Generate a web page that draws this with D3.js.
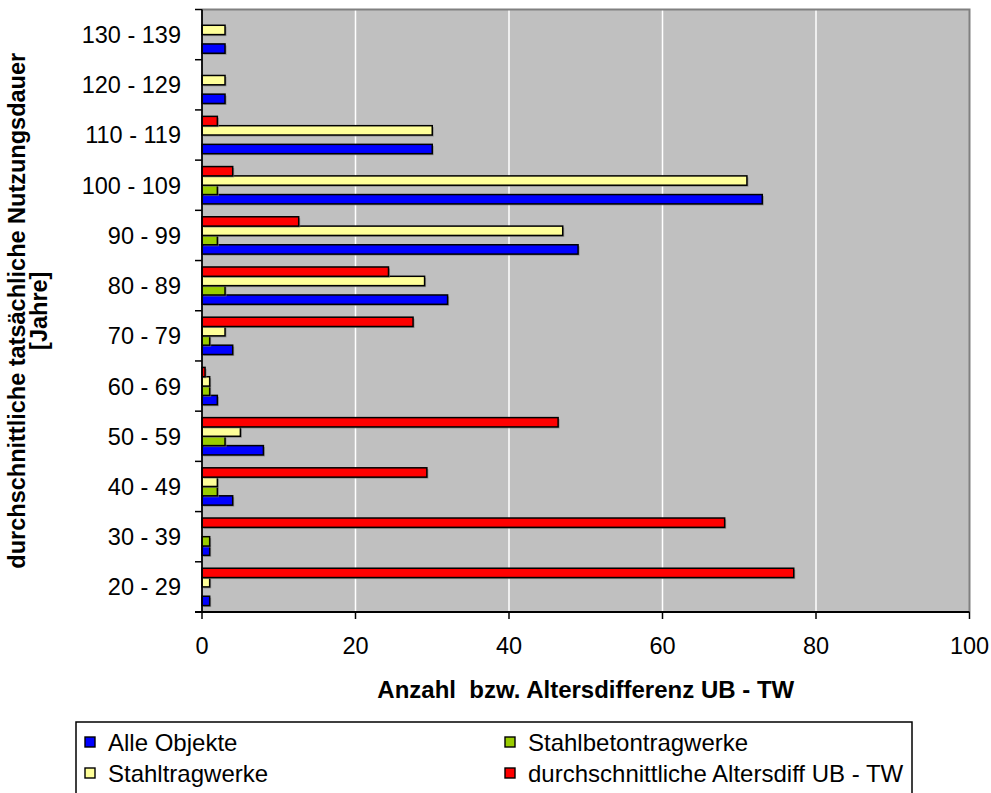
<!DOCTYPE html>
<html>
<head>
<meta charset="utf-8">
<script src="https://cdn.jsdelivr.net/npm/d3@7"></script>
<style>
  html, body { margin: 0; padding: 0; background: #fff; }
  svg { display: block; }
  text { font-family: "Liberation Sans", Arial, sans-serif; fill: #000; }
</style>
</head>
<body>
<svg id="chart" width="991" height="793"></svg>
<script>
// ---- data (bottom to top, as in the chart) ----
const categories = ["20 - 29", "30 - 39", "40 - 49", "50 - 59", "60 - 69", "70 - 79",
                    "80 - 89", "90 - 99", "100 - 109", "110 - 119", "120 - 129", "130 - 139"];
const alleObjekte         = [1, 1, 4, 8, 2, 4, 32, 49, 73, 30, 3, 3];
const stahlbetontragwerke = [0, 1, 2, 3, 1, 1, 3, 2, 2, 0, 0, 0];
const stahltragwerke      = [1, 0, 2, 5, 1, 3, 29, 47, 71, 30, 3, 3];
const altersdiff          = [77.1, 68.1, 29.3, 46.4, 0.4, 27.5, 24.3, 12.6, 4.0, 2.0, 0, 0];
const seriesNames = ["Alle Objekte", "Stahlbetontragwerke", "Stahltragwerke", "durchschnittliche Altersdiff UB - TW"];
const seriesColors = ["#0000FF", "#99CC00", "#FFFF99", "#FF0000"];
const xTicks = [0, 20, 40, 60, 80, 100];
const xTitle = "Anzahl  bzw. Altersdifferenz UB - TW";
const yTitle1 = "durchschnittliche tatsächliche Nutzungsdauer";
const yTitle2 = "[Jahre]";

const seriesValues = [alleObjekte, stahlbetontragwerke, stahltragwerke, altersdiff];

const svg = d3.select("#chart");
const L = 202, R = 969.5, T = 9.5, B = 612;

const x = d3.scaleLinear().domain([0, 100]).range([L, R]);
const y = d3.scaleBand().domain(categories.slice().reverse()).range([T, B]).padding(0);
// within a group: series 0 at bottom, last series on top
const inner = d3.scaleBand().domain([3, 2, 1, 0]).range([0, y.bandwidth()])
  .paddingInner(0).paddingOuter(0.69);

// plot background
svg.append("rect").attr("x", L).attr("y", T).attr("width", R - L).attr("height", B - T)
  .attr("fill", "#C0C0C0");

// gridlines
svg.append("g").selectAll("line").data(xTicks.filter(d => d > 0 && d < 100)).join("line")
  .attr("x1", d => x(d)).attr("x2", d => x(d)).attr("y1", T).attr("y2", B)
  .attr("stroke", "#fff").attr("stroke-width", 1.5);

// plot border (top/right grey)
svg.append("path").attr("d", `M${L},${T}H${R}V${B}`).attr("fill", "none")
  .attr("stroke", "#808080").attr("stroke-width", 2);

// bars
const groups = svg.append("g").selectAll("g").data(seriesValues).join("g");
groups.each(function(vals, si) {
  const g = d3.select(this);
  const rows = categories.map((c, i) => ({ c, v: vals[i] })).filter(d => d.v > 0);
  g.selectAll("rect.sh").data(rows).join("rect").attr("class", "sh")
    .attr("x", L + 1.5).attr("y", d => y(d.c) + inner(si) + 1.5)
    .attr("width", d => x(d.v) - L).attr("height", inner.bandwidth())
    .attr("fill", "#7a7a7a").attr("opacity", 0.7);
  g.selectAll("rect.bar").data(rows).join("rect").attr("class", "bar")
    .attr("x", L).attr("y", d => y(d.c) + inner(si))
    .attr("width", d => x(d.v) - L).attr("height", inner.bandwidth())
    .attr("fill", seriesColors[si]).attr("stroke", "#000").attr("stroke-width", 1.5);
});

// y axis
const yEdges = categories.map(c => y(c)).concat([B]);
svg.append("g").selectAll("line").data(yEdges).join("line")
  .attr("x1", L - 7).attr("x2", L).attr("y1", d => d).attr("y2", d => d)
  .attr("stroke", "#000").attr("stroke-width", 1.5);
svg.append("line").attr("x1", L).attr("x2", L).attr("y1", T).attr("y2", B + 0.5)
  .attr("stroke", "#000").attr("stroke-width", 1.8);
svg.append("g").selectAll("text").data(categories).join("text")
  .attr("x", 181).attr("y", d => y(d) + y.bandwidth() / 2)
  .attr("dy", "0.36em").attr("text-anchor", "end")
  .attr("font-size", 23.5).text(d => d);

// x axis
svg.append("line").attr("x1", L - 7).attr("x2", R).attr("y1", B).attr("y2", B)
  .attr("stroke", "#000").attr("stroke-width", 1.8);
svg.append("g").selectAll("line").data(xTicks).join("line")
  .attr("x1", d => x(d)).attr("x2", d => x(d)).attr("y1", B).attr("y2", B + 7)
  .attr("stroke", "#000").attr("stroke-width", 1.5);
svg.append("g").selectAll("text").data(xTicks).join("text")
  .attr("x", d => x(d)).attr("y", 654).attr("text-anchor", "middle")
  .attr("font-size", 23.5).text(d => d);

// axis titles
svg.append("text").attr("x", (L + R) / 2).attr("y", 698).attr("text-anchor", "middle")
  .attr("font-size", 24).attr("font-weight", "bold").attr("xml:space", "preserve")
  .style("white-space", "pre").text(xTitle);
const cy = (T + B) / 2;
svg.append("text").attr("transform", `translate(25,${cy}) rotate(-90)`)
  .attr("text-anchor", "middle").attr("font-size", 23.5).attr("font-weight", "bold").text(yTitle1);
svg.append("text").attr("transform", `translate(47,${cy}) rotate(-90)`)
  .attr("text-anchor", "middle").attr("font-size", 23.5).attr("font-weight", "bold").text(yTitle2);

// legend
svg.append("rect").attr("x", 76).attr("y", 722).attr("width", 836).attr("height", 80)
  .attr("fill", "#fff").attr("stroke", "#000").attr("stroke-width", 1.5);
const legPos = [
  { x: 85, y: 742 }, { x: 505, y: 742 }, { x: 85, y: 773 }, { x: 505, y: 773 }
];
const legOrder = [0, 1, 2, 3];
const leg = svg.append("g").selectAll("g").data(legOrder).join("g")
  .attr("transform", (d, i) => `translate(${legPos[i].x},${legPos[i].y})`);
leg.append("rect").attr("x", 0).attr("y", -5).attr("width", 10).attr("height", 10)
  .attr("fill", d => seriesColors[d]).attr("stroke", "#000").attr("stroke-width", 1.4);
leg.append("text").attr("x", 23).attr("y", 0).attr("dy", "0.36em")
  .attr("font-size", 24).text(d => seriesNames[d]);
</script>
</body>
</html>
